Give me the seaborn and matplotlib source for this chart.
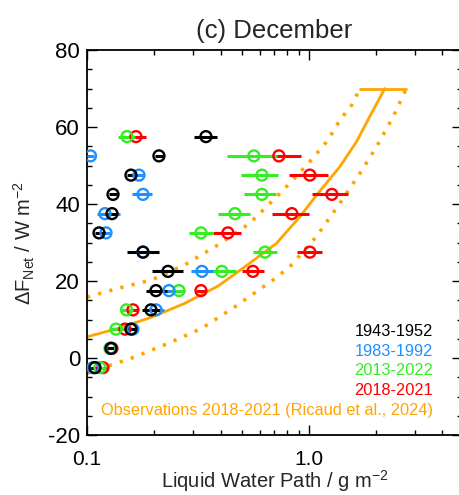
import matplotlib
matplotlib.use("Agg")
import matplotlib.pyplot as plt
import seaborn as sns
import numpy as np
from matplotlib.ticker import FixedLocator, MultipleLocator, NullFormatter, LogLocator

# ---------------- data ----------------
dF = [-2.5, 2.5, 7.5, 12.5, 17.5, 22.5, 27.5, 32.5, 37.5, 42.5, 47.5, 52.5, 57.5]

periods = ["1943-1952", "1983-1992", "2013-2022", "2018-2021"]

lwp_1943 = [0.1086, 0.1283, 0.1578, 0.1942, 0.2046, 0.2317, 0.1788, 0.1133, 0.1296, 0.1310, 0.1578, 0.2110, 0.3436]
lo_1943 = [0.1042, 0.1230, 0.1514, 0.1769, 0.1845, 0.1962, 0.1514, 0.1086, 0.1243, 0.1256, 0.1514, 0.2025, 0.3034]
hi_1943 = [0.1133, 0.1337, 0.1645, 0.2133, 0.2294, 0.2707, 0.2110, 0.1180, 0.1351, 0.1365, 0.1645, 0.2199, 0.3849]

lwp_1983 = [0.1064, 0.1283, 0.1611, 0.2046, 0.2341, 0.3296, 0.1788, 0.1218, 0.1205, 0.1788, 0.1715, 0.1037, np.nan]
lo_1983 = [0.1021, 0.1230, 0.1546, 0.1883, 0.2199, 0.2941, 0.1662, 0.1168, 0.1109, 0.1595, 0.1645, 0.1000, np.nan]
hi_1983 = [0.1109, 0.1337, 0.1680, 0.2223, 0.2492, 0.3694, 0.1922, 0.1269, 0.1408, 0.1962, 0.1788, 0.1075, np.nan]

lwp_2013 = [0.1144, 0.1269, 0.1351, 0.1506, 0.2597, 0.4055, 0.6338, 0.3263, 0.4642, 0.6144, 0.6144, 0.5652, 0.1514]
lo_2013 = [0.1098, 0.1218, 0.1269, 0.1408, 0.2440, 0.3508, 0.5594, 0.2880, 0.3891, 0.5095, 0.4939, 0.4271, 0.1379]
hi_2013 = [0.1193, 0.1323, 0.1468, 0.1611, 0.2763, 0.4690, 0.7175, 0.3694, 0.5423, 0.7100, 0.7250, 0.7175, 0.1645]

lwp_2018 = [0.1180, 0.1296, 0.1483, 0.1611, 0.3263, 0.5594, 1.0104, 0.4316, 0.8382, 1.2695, 1.0104, 0.7326, 0.1662]
lo_2018 = [0.1133, 0.1243, 0.1379, 0.1530, 0.3097, 0.4991, 0.8830, 0.3694, 0.6813, 1.0316, 0.8126, 0.5834, 0.1530]
hi_2018 = [0.1230, 0.1351, 0.1595, 0.1697, 0.3436, 0.6273, 1.1444, 0.4939, 1.0000, 1.4986, 1.2180, 0.9204, 0.1845]

# Observations 2018-2021 (Ricaud et al., 2024): fit and envelope
obs_x = [0.100, 0.138, 0.196, 0.276, 0.390, 0.515, 0.715, 0.911, 1.10, 1.38, 1.64, 1.88, 2.20]
obs_y = [5.5, 7.7, 10.6, 14.2, 18.7, 23.7, 29.8, 36.7, 42.8, 49.7, 56.2, 62.7, 70.0]
up_x = [0.100, 0.138, 0.196, 0.276, 0.390, 0.515, 0.581, 0.766, 1.01, 1.22, 1.38, 1.56, 1.70]
up_y = [15.8, 18.1, 20.3, 24.2, 29.4, 34.1, 36.7, 43.6, 51.0, 56.6, 61.8, 65.7, 70.0]
low_x = [0.100, 0.121, 0.165, 0.232, 0.329, 0.464, 0.691, 0.821, 1.08, 1.38, 1.70, 2.02, 2.40, 2.75]
low_y = [-4.0, -2.3, 0.3, 3.8, 7.7, 13.3, 20.3, 23.7, 31.5, 40.2, 48.0, 54.9, 62.7, 70.0]
cap_x = [1.70, 2.75]
cap_y = [70.0, 70.0]

obs_label = "Observations 2018-2021 (Ricaud et al., 2024)"

# ---------------- style ----------------
sns.set_theme(style="ticks")
plt.rcParams["font.family"] = ["Liberation Sans", "DejaVu Sans"]
plt.rcParams["mathtext.default"] = "regular"
plt.rcParams["axes.unicode_minus"] = False

colors = {"1943-1952": "#000000", "1983-1992": "#1E90FF",
          "2013-2022": "#33EE22", "2018-2021": "#FF0000"}
orange = "#FFA500"

fig = plt.figure(figsize=(4.6, 4.95), dpi=100)
ax = fig.add_axes([87 / 460, 60 / 495, 375 / 460, 385 / 495])
ax.set_xscale("log")

# observation curves
sns.lineplot(x=obs_x, y=obs_y, sort=False, estimator=None, color=orange, lw=2.0, ax=ax)
sns.lineplot(x=up_x, y=up_y, sort=False, estimator=None, color=orange, lw=2.6,
             linestyle=(0, (0.9, 2.3)), ax=ax)
sns.lineplot(x=low_x, y=low_y, sort=False, estimator=None, color=orange, lw=2.6,
             linestyle=(0, (0.9, 2.3)), ax=ax)
sns.lineplot(x=cap_x, y=cap_y, sort=False, estimator=None, color=orange, lw=2.0, ax=ax)

series = {
    "1943-1952": (lwp_1943, lo_1943, hi_1943),
    "1983-1992": (lwp_1983, lo_1983, hi_1983),
    "2013-2022": (lwp_2013, lo_2013, hi_2013),
    "2018-2021": (lwp_2018, lo_2018, hi_2018),
}

for p in ["2018-2021", "2013-2022", "1983-1992", "1943-1952"]:
    c = colors[p]
    x, lo, hi = series[p]
    ax.hlines(dF, lo, hi, colors=c, lw=2.2, zorder=3)
    sns.scatterplot(x=x, y=dF, marker="o", s=62, facecolor="none", edgecolor=c,
                    linewidth=1.7, ax=ax, zorder=4)

ax.set_xlim(0.1, 4.9)
ax.set_ylim(-20, 80)

ax.xaxis.set_major_locator(FixedLocator([0.1, 1.0, 10.0]))
ax.set_xticklabels(["0.1", "1.0", "10"])
ax.xaxis.set_minor_locator(LogLocator(base=10, subs=np.arange(2, 10)))
ax.xaxis.set_minor_formatter(NullFormatter())
ax.yaxis.set_major_locator(MultipleLocator(20))
ax.yaxis.set_minor_locator(MultipleLocator(5))

ax.tick_params(which="both", direction="in", top=True, right=True, width=1.0, colors="black")
ax.tick_params(which="major", length=7)
ax.tick_params(axis="x", which="major", pad=11, labelsize=15)
ax.tick_params(axis="y", which="major", pad=5, labelsize=16)
ax.tick_params(which="minor", length=3.5)
for s in ax.spines.values():
    s.set_linewidth(1.3)
    s.set_color("black")

ax.set_title("(c) December", fontsize=18.5, pad=8.8)
ax.set_xlabel("Liquid Water Path / g m$^{-2}$", fontsize=14.5, labelpad=-0.5)
ax.set_ylabel("ΔF$_{Net}$ / W m$^{-2}$", fontsize=14.5)
ax.yaxis.set_label_coords(-0.133, 0.5)

ypos = [0.2683, 0.2164, 0.1670, 0.1151]
for p, yy in zip(periods, ypos):
    ax.text(0.9227, yy, p, color=colors[p], fontsize=11.8, ha="right", va="center",
            transform=ax.transAxes)
ax.text(0.9227, 0.0649, obs_label, color=orange, fontsize=11.8, ha="right", va="center",
        transform=ax.transAxes)

fig.savefig("out.png", dpi=100)
